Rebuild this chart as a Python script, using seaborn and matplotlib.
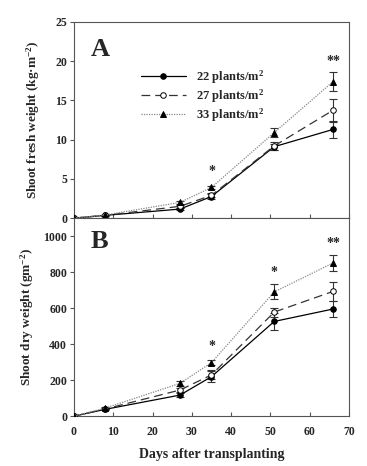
import numpy as np
import pandas as pd
import seaborn as sns
import matplotlib
matplotlib.use("Agg")
import matplotlib.pyplot as plt

sns.set_style("ticks")
plt.rcParams['font.family'] = ['Liberation Serif', 'DejaVu Serif']
plt.rcParams['font.weight'] = 'bold'
plt.rcParams['mathtext.fontset'] = 'custom'
plt.rcParams['mathtext.rm'] = 'Liberation Serif:bold'
plt.rcParams['mathtext.it'] = 'Liberation Serif:bold'
plt.rcParams['mathtext.bf'] = 'Liberation Serif:bold'
plt.rcParams['mathtext.default'] = 'rm'

days = [0, 8, 27, 35, 51, 66]
labels = ["22 plants/m$^2$", "27 plants/m$^2$", "33 plants/m$^2$"]

fresh_22 = [0, 0.35, 1.15, 2.75, 9.1, 11.3]
fresh_27 = [0, 0.35, 1.5, 2.9, 9.2, 13.75]
fresh_33 = [0, 0.4, 2.0, 3.9, 10.9, 17.4]
fresh_err_22 = [0, 0.05, 0.15, 0.3, 0.4, 1.05]
fresh_err_27 = [0, 0.05, 0.2, 0.25, 0.5, 1.45]
fresh_err_33 = [0, 0.05, 0.2, 0.2, 0.6, 1.25]

dry_22 = [0, 38, 117, 219, 526, 595]
dry_27 = [0, 40, 145, 229, 578, 693]
dry_33 = [0, 45, 182, 297, 690, 851]
dry_err_22 = [0, 3, 10, 30, 45, 44]
dry_err_27 = [0, 3, 12, 25, 25, 54]
dry_err_33 = [0, 3, 12, 15, 42, 44]

fresh_stars = [(35, 5.9, "*"), (66, 19.9, "**")]
dry_stars = [(35, 385, "*"), (51, 798, "*"), (66, 960, "**")]

styles = [
    dict(color="black", linestyle="-", marker="o", mfc="black", mec="black", lw=0.9),
    dict(color="#333333", linestyle=(0, (7, 4)), marker="o", mfc="white", mec="black", lw=0.9),
    dict(color="#888888", linestyle=(0, (1, 1)), marker="^", mfc="black", mec="black", lw=0.9),
]

fig = plt.figure(figsize=(3.67, 4.66), dpi=100)
axA = fig.add_axes([0.2016, 0.532, 0.749, 0.421])
axB = fig.add_axes([0.2016, 0.107, 0.749, 0.425])

def draw(ax, series, errs):
    for vals, err, lab, st in zip(series, errs, labels, styles):
        df = pd.DataFrame({"day": days, "val": vals})
        ax.errorbar(days, vals, yerr=err, fmt="none", ecolor="#333333",
                    elinewidth=0.8, capsize=3, capthick=0.8, zorder=2)
        sns.lineplot(data=df, x="day", y="val", ax=ax, label=lab,
                     color=st["color"], linestyle=st["linestyle"], lw=st["lw"],
                     marker=st["marker"], markersize=4,
                     markerfacecolor=st["mfc"], markeredgecolor=st["mec"],
                     markeredgewidth=0.7, zorder=3)

draw(axA, [fresh_22, fresh_27, fresh_33], [fresh_err_22, fresh_err_27, fresh_err_33])
draw(axB, [dry_22, dry_27, dry_33], [dry_err_22, dry_err_27, dry_err_33])

for ax in (axA, axB):
    ax.set_xlim(0, 70)
    ax.set_xticks(range(0, 71, 10))
    for s in ax.spines.values():
        s.set_color("#555555")
        s.set_linewidth(0.8)
    ax.tick_params(axis='y', direction='out', length=3, width=0.8, color="#555555",
                   labelsize=8.5, pad=2)
    ax.tick_params(axis='x', direction='in', length=3, width=0.8, color="#555555",
                   labelsize=8.5, pad=7)
    for t in ax.get_xticklabels() + ax.get_yticklabels():
        t.set_fontweight('bold')

axA.set_ylim(0, 25)
axA.set_yticks(range(0, 26, 5))
axA.set_xticklabels([])
axA.set_xlabel("")
axA.set_ylabel("Shoot fresh weight (kg·m$^{-2}$)", fontsize=9.5, fontweight='bold')
axB.set_ylim(0, 1100)
axB.set_yticks(range(0, 1001, 200))
axB.set_xlabel("Days after transplanting", fontsize=10, fontweight='bold', labelpad=7)
axB.set_ylabel("Shoot dry weight (gm$^{-2}$)", fontsize=9.5, fontweight='bold')
axA.yaxis.set_label_coords(-0.115, 0.5)
axB.yaxis.set_label_coords(-0.14, 0.5)

for x, y, s in fresh_stars:
    axA.text(x, y, s, ha="center", va="center", fontsize=10, fontweight="bold")
for x, y, s in dry_stars:
    axB.text(x, y, s, ha="center", va="center", fontsize=10, fontweight="bold")

axA.text(0.06, 0.86, "A", transform=axA.transAxes, fontsize=19, fontweight="bold",
         ha="left", va="center")
axB.text(0.06, 0.88, "B", transform=axB.transAxes, fontsize=19, fontweight="bold",
         ha="left", va="center")

axB.get_legend().remove()
leg = axA.legend(loc="upper left", bbox_to_anchor=(0.225, 0.79), frameon=False,
                 fontsize=9, handlelength=3.6, handletextpad=0.8, labelspacing=0.12,
                 borderaxespad=0)
for t in leg.get_texts():
    t.set_fontweight("bold")

fig.savefig("out.png", dpi=100)
